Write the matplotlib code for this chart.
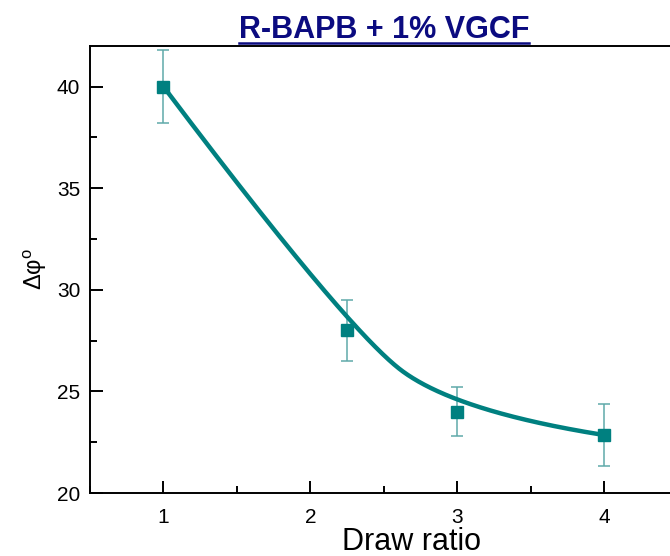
import numpy as np
import matplotlib
matplotlib.use("Agg")
import matplotlib.pyplot as plt
from matplotlib.lines import Line2D
from matplotlib.ticker import MultipleLocator

plt.rcParams['font.family'] = ['Liberation Sans', 'DejaVu Sans']
plt.rcParams['mathtext.fontset'] = 'custom'
plt.rcParams['mathtext.rm'] = 'Liberation Sans'

# Measured orientation spread versus draw ratio
draw_ratio = [1.0, 2.25, 3.0, 4.0]
delta_phi = [40.0, 28.0, 24.0, 22.85]
delta_phi_err = [1.8, 1.5, 1.2, 1.52]

title_text = "R-BAPB + 1% VGCF"
x_label = "Draw ratio"
y_label = "Δφ$^{\\mathrm{o}}$"
x_ticks = [1, 2, 3, 4]
y_ticks = [20, 25, 30, 35, 40]

TEAL = "#008080"
BAR = "#5fa9a9"
NAVY = "#0b0b80"


def bspline_curve(px, py, degree=2, samples=600):
    """Clamped uniform B-spline using the data points as control points."""
    px = np.asarray(px, float)
    py = np.asarray(py, float)
    n = len(px)
    inner = np.linspace(0, 1, n - degree + 1)[1:-1]
    knots = np.concatenate([np.zeros(degree + 1), inner, np.ones(degree + 1)])
    ts = np.linspace(0, 1, samples)
    out_x, out_y = [], []
    for t in ts:
        if t >= 1.0:
            out_x.append(px[-1])
            out_y.append(py[-1])
            continue
        k = np.searchsorted(knots, t, side='right') - 1
        dx = [px[j + k - degree] for j in range(degree + 1)]
        dy = [py[j + k - degree] for j in range(degree + 1)]
        for r in range(1, degree + 1):
            for j in range(degree, r - 1, -1):
                i = j + k - degree
                denom = knots[i + degree - r + 1] - knots[i]
                a = 0.0 if denom == 0 else (t - knots[i]) / denom
                dx[j] = (1 - a) * dx[j - 1] + a * dx[j]
                dy[j] = (1 - a) * dy[j - 1] + a * dy[j]
        out_x.append(dx[degree])
        out_y.append(dy[degree])
    return np.array(out_x), np.array(out_y)


fig = plt.figure(figsize=(6.7, 5.56), dpi=100)
ax = fig.add_axes([0.1343, 0.1133, 0.8776, 0.804])

ax.errorbar(draw_ratio, delta_phi, yerr=delta_phi_err, fmt='none',
            ecolor=BAR, elinewidth=1.1, capsize=4, capthick=1.1, zorder=2)
ax.plot(draw_ratio, delta_phi, linestyle='none', marker='s', markersize=8.6,
        color=TEAL, zorder=3)
cx, cy = bspline_curve(draw_ratio, delta_phi)
ax.plot(cx, cy, color=TEAL, linewidth=3.2, solid_capstyle='round',
        solid_joinstyle='round', zorder=4)

ax.set_xlim(0.5, 4.5)
ax.set_ylim(20, 42)
ax.set_xticks(x_ticks)
ax.set_yticks(y_ticks)
ax.xaxis.set_minor_locator(MultipleLocator(0.5))
ax.yaxis.set_minor_locator(MultipleLocator(2.5))
ax.tick_params(which='both', direction='in', top=False, right=False,
               width=1.4, labelsize=15, colors='black')
ax.tick_params(which='major', length=9, pad=7)
ax.tick_params(axis='x', which='major', pad=11)
ax.tick_params(which='minor', length=5)
for s in ax.spines.values():
    s.set_linewidth(1.4)

ax.set_xlabel(x_label, fontsize=22)
ax.xaxis.set_label_coords(0.546, -0.076)
ax.set_ylabel(y_label, fontsize=17, labelpad=6)

title = ax.set_title(title_text, fontsize=22, fontweight='bold', color=NAVY,
                     pad=6)

fig.canvas.draw()
bb = title.get_window_extent(fig.canvas.get_renderer())
bbf = bb.transformed(fig.transFigure.inverted())
uy = bbf.y0 + 1.5 / fig.bbox.height
fig.add_artist(Line2D([bbf.x0, bbf.x1], [uy, uy], transform=fig.transFigure,
                      color=NAVY, linewidth=1.8))

fig.savefig("out.png", dpi=100)
